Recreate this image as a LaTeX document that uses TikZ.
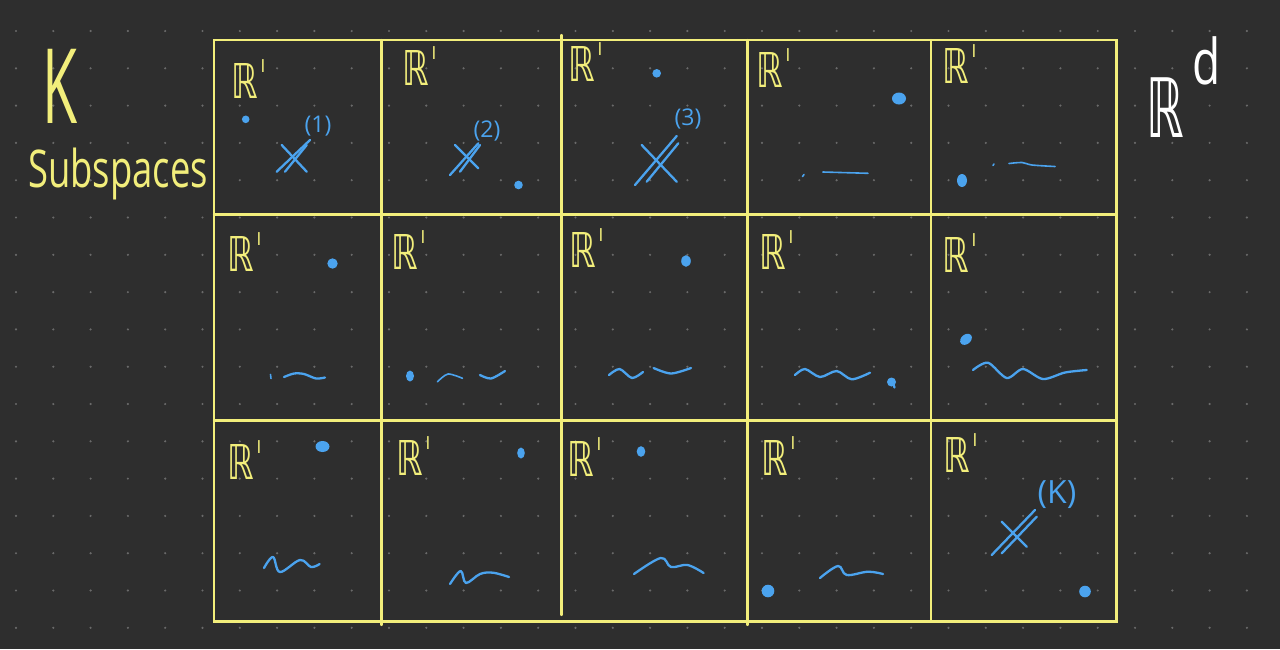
\documentclass[tikz,border=0pt]{standalone}
\usepackage{fontspec}
\setmainfont{Open Sans}
\newfontfamily\dvs{DejaVu Sans}
\definecolor{bgc}{HTML}{2E2E2E}
\definecolor{ylw}{HTML}{F2EE7B}
\definecolor{mblue}{HTML}{4BA3EE}
\definecolor{dotc}{HTML}{6A6A6A}
\tikzset{
 gridline/.style={draw=ylw, line width=2.3pt, line cap=round},
 bstroke/.style={draw=mblue, line width=2.3pt, line cap=round, line join=round},
 thin stroke/.style={draw=mblue, line width=1.6pt, line cap=round, line join=round},
 bdot/.style={fill=mblue},
 rlab/.style={inner sep=0pt, text=ylw, font=\dvs\fontsize{48}{48}\selectfont, xscale=0.7},
 rsup/.style={inner sep=0pt, text=ylw, font=\dvs\fontsize{17}{17}\selectfont, anchor=south west},
 clab/.style={inner sep=0pt, text=mblue, font=\fontsize{23}{23}\selectfont},
}
\newcommand\Rlab[3]{\node[rlab] (#1) at (#2,#3) {ℝ}; \node[rsup] (#1s) at ([xshift=2pt,yshift=-9pt]#1.north east) {l};}
\begin{document}
\begin{tikzpicture}[x=1pt,y=-1pt]
\fill[bgc] (0,0) rectangle (1280,649);
\useasboundingbox (0,0) rectangle (1280,649);
% dot grid
\foreach \i in {0,...,33} \foreach \j in {0,...,16}
  \fill[dotc] ({16+37.3*\i},{31+37.3*\j}) circle (1.2);
% grid
\draw[gridline] (214,40) rectangle (1116.5,621.5);
\draw[gridline] (381.5,40) -- (381.5,625);
\draw[gridline] (561.5,35) -- (561.5,615);
\draw[gridline] (747.5,40) -- (747.5,625);
\draw[gridline] (930.8,40) -- (930.8,621.5);
\draw[gridline] (214,214.5) -- (1116.5,214.5);
\draw[gridline] (214,420.5) -- (1116.5,420.5);
% side labels
\node[inner sep=0pt, text=ylw, font=\fontsize{104}{104}\selectfont, xscale=0.55] (K) at (60,86) {K};
\node[inner sep=0pt, text=ylw, font=\fontsize{52}{52}\selectfont, xscale=0.7, anchor=base west] (sub) at (28,187) {Subspaces};
\node[inner sep=0pt, text=white, font=\dvs\fontsize{82}{82}\selectfont, xscale=0.58] (Rd) at (1165,108) {ℝ};
\node[inner sep=0pt, text=white, font=\fontsize{63}{63}\selectfont, xscale=0.73] (d) at (1207,61) {d};
% R^l labels
\Rlab{r11}{245}{81}
\Rlab{r12}{416}{68}
\Rlab{r13}{582}{64}
\Rlab{r14}{770}{70}
\Rlab{r15}{956}{66}
\Rlab{r21}{241}{254}
\Rlab{r22}{405}{252}
\Rlab{r23}{583}{250}
\Rlab{r24}{773}{252}
\Rlab{r25}{956}{255}
\Rlab{r31}{241}{462}
\Rlab{r32}{410}{458}
\Rlab{r33}{581}{459}
\Rlab{r34}{775}{458}
\Rlab{r35}{957}{455}
% crosses
\draw[bstroke] (276.7,171.7) -- (310,140);
\draw[bstroke] (285,171.7) -- (306.7,145);
\draw[bstroke] (281.7,145) -- (306.7,171.7);
\node[clab] (c1) at (318,126) {(1)};
\draw[bstroke] (450,175) -- (478.3,143.3);
\draw[bstroke] (460,171.7) -- (480,145);
\draw[bstroke] (455,145) -- (478.3,168.3);
\node[clab] (c2) at (487,131) {(2)};
\draw[bstroke] (635,185) -- (676.7,136);
\draw[bstroke] (646.7,181.7) -- (678.3,143.3);
\draw[bstroke] (641.7,145) -- (676.7,181.7);
\node[clab] (c3) at (688,119) {(3)};
\draw[bstroke] (991.7,555) -- (1035,510);
\draw[bstroke] (1001.7,553.3) -- (1036.7,516.7);
\draw[bstroke] (1001.7,521.7) -- (1026.7,546.7);
\node[clab, font=\fontsize{32}{32}\selectfont] (cK) at (1057,495) {(K)};
% dots
\fill[bdot] (245.7,119.3) circle (3.8);
\fill[bdot] (518.5,185) circle (4.3);
\fill[bdot] (656.7,73.3) circle (4.3);
\fill[bdot] (899,98.5) ellipse (7 and 6);
\fill[bdot] (962,180.5) ellipse (5 and 6.5);
\fill[bdot] (332.5,263.5) circle (5.2);
\fill[bdot] (410,376) ellipse (4 and 5.5);
\fill[bdot] (686,261) ellipse (4.8 and 5.8);
\fill[bdot] (891.5,382) circle (4.5);
\draw[bstroke] (893,383) -- (894.5,387.5);
\fill[bdot, rotate around={40:(966,339.3)}] (966,339.3) ellipse (6.5 and 4.8);
\fill[bdot] (322.5,446.5) ellipse (7 and 5.5);
\fill[bdot] (521,453) ellipse (3.8 and 5.5);
\fill[bdot] (641,451.5) ellipse (4.3 and 5.3);
\fill[bdot] (768,591) circle (6.3);
\fill[bdot] (1085,591.5) circle (5.8);
% ticks
\draw[thin stroke] (804,174.5) -- (802.5,176.5);
\draw[thin stroke] (994,164) -- (993,165.5);
\draw[thin stroke] (270.5,374.5) -- (271,378.5);
% squiggles
\draw[thin stroke] (822.8,172) -- (868,173.3);
\draw[thin stroke] plot[smooth] coordinates {(1009,163.5) (1022,162.5) (1032,165) (1055,166.5)};
\draw[bstroke] plot[smooth] coordinates {(284,377) (294,373.5) (304,374) (316,378.5) (325,377.5)};
\draw[thin stroke] plot[smooth] coordinates {(437.5,381.7) (448,374) (462.5,378.3)};
\draw[bstroke] plot[smooth] coordinates {(480,375) (491,378.5) (505,371)};
\draw[bstroke] plot[smooth] coordinates {(609,375) (619.6,369) (632,378) (643,372)};
\draw[bstroke] plot[smooth] coordinates {(653.6,368) (671,373.5) (691,368)};
\draw[bstroke] plot[smooth] coordinates {(795,375) (805,369) (820,377) (836.7,371) (851.7,379.3) (870,372.7)};
\draw[bstroke] plot[smooth] coordinates {(973,370) (988,362.7) (1006.7,378) (1023,369) (1043,379) (1065,372.5) (1086.7,370)};
\draw[bstroke] plot[smooth, tension=0.6] coordinates {(264,568) (273,557) (280,572) (300,560) (311,567) (319.6,564)};
\draw[bstroke] plot[smooth, tension=0.6] coordinates {(450,584) (460.7,571) (466,583) (480,574) (493,572.7) (509,577)};
\draw[bstroke] plot[smooth, tension=0.6] coordinates {(634,574) (660.7,558) (671,567) (687.5,565) (703.6,573)};
\draw[bstroke] plot[smooth, tension=0.6] coordinates {(820,578) (838,566) (846.7,575) (868,571.7) (883,574)};
\end{tikzpicture}
\end{document}
